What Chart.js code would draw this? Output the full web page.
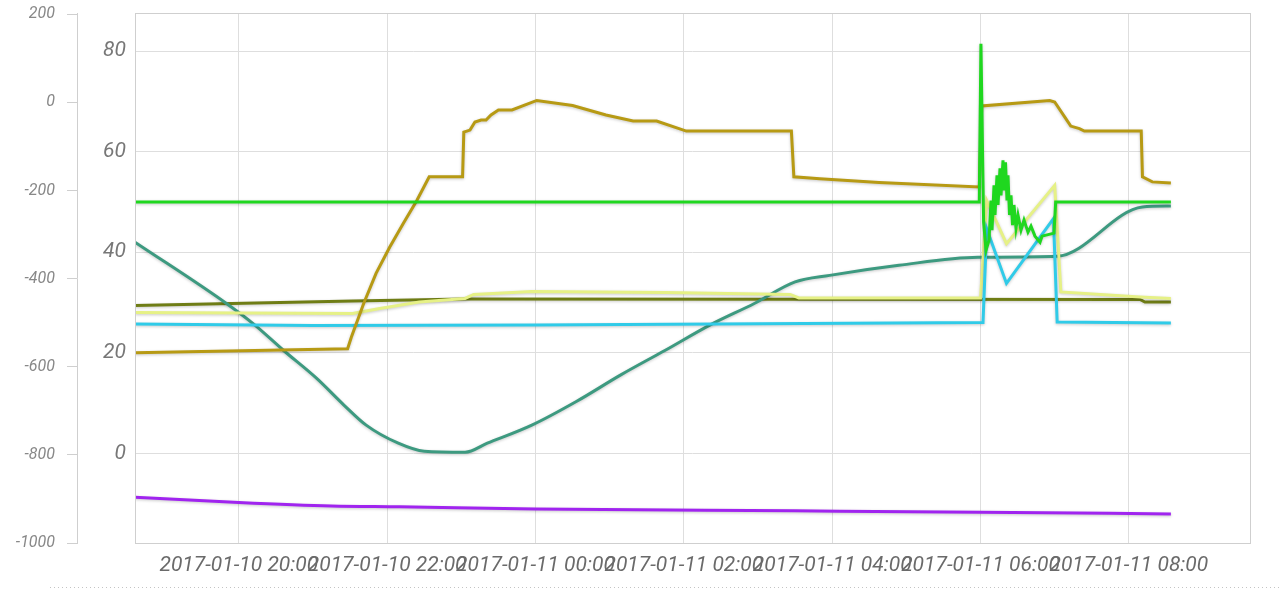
<!DOCTYPE html>
<html>
<head>
<meta charset="utf-8">
<script src="https://cdn.jsdelivr.net/npm/chart.js@4.4.1/dist/chart.umd.min.js"></script>
<style>
  body { margin: 0; background: #fff; }
  #wrap { position: relative; width: 1280px; height: 591px; }
</style>
</head>
<body>
<div id="wrap"><canvas id="grafico"></canvas></div>
<script>
// eixo x
const xMin = "2017-01-10 18:36";
const xMax = "2017-01-11 09:38";
const xTickLabels = [
  "2017-01-10 20:00", "2017-01-10 22:00", "2017-01-11 00:00", "2017-01-11 02:00",
  "2017-01-11 04:00", "2017-01-11 06:00", "2017-01-11 08:00"
];
const innerTicks = [0, 20, 40, 60, 80];
const outerTicks = [-1000, -800, -600, -400, -200, 0, 200];

// series
const brownTimes = [
  "2017-01-10 18:36", "2017-01-10 21:28", "2017-01-10 21:31", "2017-01-10 21:41", "2017-01-10 21:51",
  "2017-01-10 22:02", "2017-01-10 22:13", "2017-01-10 22:24", "2017-01-10 22:34", "2017-01-10 23:01",
  "2017-01-10 23:02", "2017-01-10 23:07", "2017-01-10 23:11", "2017-01-10 23:16", "2017-01-10 23:20",
  "2017-01-10 23:24", "2017-01-10 23:30", "2017-01-10 23:41", "2017-01-11 00:01", "2017-01-11 00:30",
  "2017-01-11 00:57", "2017-01-11 01:19", "2017-01-11 01:38", "2017-01-11 02:02", "2017-01-11 03:27",
  "2017-01-11 03:29", "2017-01-11 03:50", "2017-01-11 04:38", "2017-01-11 05:59", "2017-01-11 06:01",
  "2017-01-11 06:56", "2017-01-11 07:00", "2017-01-11 07:09", "2017-01-11 07:13", "2017-01-11 07:20",
  "2017-01-11 07:24", "2017-01-11 08:10", "2017-01-11 08:11", "2017-01-11 08:19", "2017-01-11 08:34"
];
const brownValues = [
  20.0, 20.8, 23.1, 29.8, 35.8,
  41.0, 45.7, 50.3, 55.0, 55.0,
  63.9, 64.3, 65.9, 66.3, 66.3,
  67.3, 68.3, 68.3, 70.2, 69.2,
  67.3, 66.1, 66.1, 64.1, 64.1,
  55.0, 54.6, 53.9, 53.0, 69.1,
  70.2, 69.9, 66.6, 65.1, 64.6,
  64.1, 64.1, 55.0, 54.0, 53.8
];

const greenTimes = [
  "2017-01-10 18:36", "2017-01-11 05:59", "2017-01-11 06:00:20", "2017-01-11 06:02:30", "2017-01-11 06:04:27",
  "2017-01-11 06:06:52", "2017-01-11 06:08:29", "2017-01-11 06:09:18", "2017-01-11 06:10:55", "2017-01-11 06:11:43",
  "2017-01-11 06:13:20", "2017-01-11 06:14:09", "2017-01-11 06:15:46", "2017-01-11 06:16:35", "2017-01-11 06:18:11",
  "2017-01-11 06:19:00", "2017-01-11 06:20:13", "2017-01-11 06:21:26", "2017-01-11 06:22:14", "2017-01-11 06:23:27",
  "2017-01-11 06:24:40", "2017-01-11 06:25:53", "2017-01-11 06:27:05", "2017-01-11 06:28:42", "2017-01-11 06:30:19",
  "2017-01-11 06:32:45", "2017-01-11 06:35:10", "2017-01-11 06:38:24", "2017-01-11 06:40:50", "2017-01-11 06:44:04",
  "2017-01-11 06:48:07", "2017-01-11 06:49:44", "2017-01-11 06:59:26", "2017-01-11 07:00:48", "2017-01-11 08:34"
];
const greenValues = [
  50.0, 50.0, 81.5, 46.0, 40.4,
  42.4, 50.3, 44.4, 53.3, 47.4,
  55.3, 49.4, 56.7, 51.3, 58.3,
  52.3, 57.9, 50.3, 55.3, 47.4,
  51.3, 45.4, 49.4, 44.8, 47.4,
  44.4, 46.4, 44.0, 45.2, 43.2,
  42.0, 43.2, 43.8, 50.0, 50.0
];

const tealTimes = [
  "2017-01-10 18:36", "2017-01-10 19:50", "2017-01-10 20:13", "2017-01-10 20:36", "2017-01-10 21:03",
  "2017-01-10 21:25", "2017-01-10 21:43", "2017-01-10 22:09", "2017-01-10 22:30", "2017-01-10 23:03",
  "2017-01-10 23:21", "2017-01-10 23:57", "2017-01-11 00:33", "2017-01-11 01:09", "2017-01-11 01:45",
  "2017-01-11 02:21", "2017-01-11 02:57", "2017-01-11 03:30", "2017-01-11 03:58", "2017-01-11 04:54",
  "2017-01-11 05:58", "2017-01-11 07:02", "2017-01-11 08:11", "2017-01-11 08:34"
];
const tealValues = [
  42.0, 29.8, 25.5, 20.5, 14.9,
  9.6, 5.6, 2.0, 0.4, 0.2,
  2.0, 5.6, 10.3, 15.6, 20.5,
  25.5, 29.8, 34.1, 35.4, 37.4,
  39.0, 39.2, 49.0, 49.2
];

const oliveTimes = [
  "2017-01-10 18:36", "2017-01-10 21:32", "2017-01-10 23:03", "2017-01-11 08:09", "2017-01-11 08:13",
  "2017-01-11 08:34"
];
const oliveValues = [29.4, 30.3, 30.7, 30.6, 30.1, 30.1];

const yellowTimes = [
  "2017-01-10 18:36", "2017-01-10 21:32", "2017-01-10 21:54", "2017-01-10 22:26", "2017-01-10 23:03",
  "2017-01-10 23:10", "2017-01-10 23:57", "2017-01-11 01:45", "2017-01-11 03:26", "2017-01-11 03:33",
  "2017-01-11 06:00", "2017-01-11 06:05", "2017-01-11 06:21", "2017-01-11 07:00", "2017-01-11 07:05",
  "2017-01-11 08:09", "2017-01-11 08:34"
];
const yellowValues = [
  28.0, 27.8, 28.8, 30.1, 30.8,
  31.6, 32.2, 32.0, 31.6, 30.9,
  30.9, 50.3, 41.7, 53.3, 32.1,
  31.1, 30.8
];

const cyanTimes = [
  "2017-01-10 18:36", "2017-01-10 21:00", "2017-01-11 00:00", "2017-01-11 06:02", "2017-01-11 06:05",
  "2017-01-11 06:21", "2017-01-11 06:59", "2017-01-11 07:02", "2017-01-11 08:34"
];
const cyanValues = [25.7, 25.4, 25.5, 26.0, 44.7, 33.8, 46.7, 26.1, 25.9];

const purpleTimes = [
  "2017-01-10 18:36", "2017-01-10 20:00", "2017-01-10 21:15", "2017-01-10 22:10", "2017-01-11 00:00",
  "2017-01-11 03:30", "2017-01-11 06:00", "2017-01-11 08:34"
];
const purpleValues = [-896, -908, -916, -918, -923, -927, -930, -934];

function toMs(s) {
  const [d, t] = s.split(" ");
  const [ano, mes, dia] = d.split("-").map(Number);
  const [h, m, seg] = t.split(":").map(Number);
  return Date.UTC(ano, mes - 1, dia, h, m, seg || 0);
}

function pontos(times, values) {
  return times.map((t, i) => ({ x: toMs(t), y: values[i] }));
}

function linha(times, values, cor, extra) {
  return Object.assign({
    data: pontos(times, values),
    borderColor: cor,
    backgroundColor: cor,
    borderWidth: 3,
    pointRadius: 0,
    tension: 0,
    yAxisID: "y"
  }, extra || {});
}

function semPadding(axis) {
  axis.paddingTop = 0;
  axis.paddingBottom = 0;
}

const fonte = { family: "Roboto", style: "italic" };

const moldura = {
  id: "moldura",
  beforeDatasetsDraw(chart) {
    const ctx = chart.ctx;
    ctx.save();
    ctx.shadowColor = "rgba(0,0,0,0.22)";
    ctx.shadowBlur = 3;
    ctx.shadowOffsetY = 1;
  },
  afterDatasetsDraw(chart) {
    chart.ctx.restore();
  },
  afterDraw(chart) {
    const { ctx, chartArea } = chart;
    ctx.save();
    ctx.strokeStyle = "#cfcfcf";
    ctx.lineWidth = 1;
    ctx.strokeRect(chartArea.left + 0.5, chartArea.top + 0.5,
      chartArea.right - chartArea.left, chartArea.bottom - chartArea.top);
    ctx.setLineDash([1, 3]);
    ctx.strokeStyle = "#c4c4c4";
    ctx.beginPath();
    ctx.moveTo(50, chart.height - 3.5);
    ctx.lineTo(chart.width, chart.height - 3.5);
    ctx.stroke();
    ctx.restore();
  }
};

new Chart(document.getElementById("grafico"), {
  type: "line",
  data: {
    datasets: [
      linha(greenTimes, greenValues, "#1fd71f"),
      linha(brownTimes, brownValues, "#b79a14"),
      linha(cyanTimes, cyanValues, "#30cbe8"),
      linha(yellowTimes, yellowValues, "#e6f186"),
      linha(tealTimes, tealValues, "#3d9a80", { cubicInterpolationMode: "monotone" }),
      linha(oliveTimes, oliveValues, "#6f7d15"),
      linha(purpleTimes, purpleValues, "#a024ef", { yAxisID: "y2", cubicInterpolationMode: "monotone" })
    ]
  },
  options: {
    responsive: true,
    maintainAspectRatio: false,
    animation: false,
    layout: { padding: { top: 13, right: 30, left: 0, bottom: 0 } },
    plugins: {
      legend: { display: false },
      tooltip: { enabled: false }
    },
    scales: {
      x: {
        type: "linear",
        min: toMs(xMin),
        max: toMs(xMax),
        afterBuildTicks(axis) {
          axis.ticks = xTickLabels.map(l => ({ value: toMs(l) }));
        },
        afterFit(axis) {
          axis.height = 48;
          axis.paddingLeft = 0;
          axis.paddingRight = 0;
        },
        grid: { color: "#dedede", drawTicks: false },
        border: { display: false },
        ticks: {
          autoSkip: false,
          maxRotation: 0,
          minRotation: 0,
          padding: 10,
          color: "#6a6a6a",
          font: Object.assign({ size: 21 }, fonte),
          callback: (value, index) => xTickLabels[index]
        }
      },
      y: {
        position: "left",
        weight: 0,
        min: -17.85,
        max: 87.6,
        afterBuildTicks(axis) {
          axis.ticks = innerTicks.map(v => ({ value: v }));
        },
        afterFit(axis) {
          axis.width = 58;
          semPadding(axis);
        },
        grid: { color: "#dedede", drawTicks: false },
        border: { display: false },
        ticks: {
          padding: 9,
          color: "#777",
          font: Object.assign({ size: 21 }, fonte),
          callback: v => String(v)
        }
      },
      y2: {
        position: "left",
        weight: 1,
        min: -1000,
        max: 203,
        afterBuildTicks(axis) {
          axis.ticks = outerTicks.map(v => ({ value: v }));
        },
        afterFit(axis) {
          axis.width = 77;
          semPadding(axis);
        },
        grid: { drawOnChartArea: false, drawTicks: true, tickLength: 10, tickColor: "#cfcfcf" },
        border: { display: true, color: "#cfcfcf" },
        ticks: {
          padding: 12,
          color: "#888",
          font: Object.assign({ size: 16 }, fonte),
          callback: v => String(v)
        }
      }
    }
  },
  plugins: [moldura]
});
</script>
</body>
</html>
